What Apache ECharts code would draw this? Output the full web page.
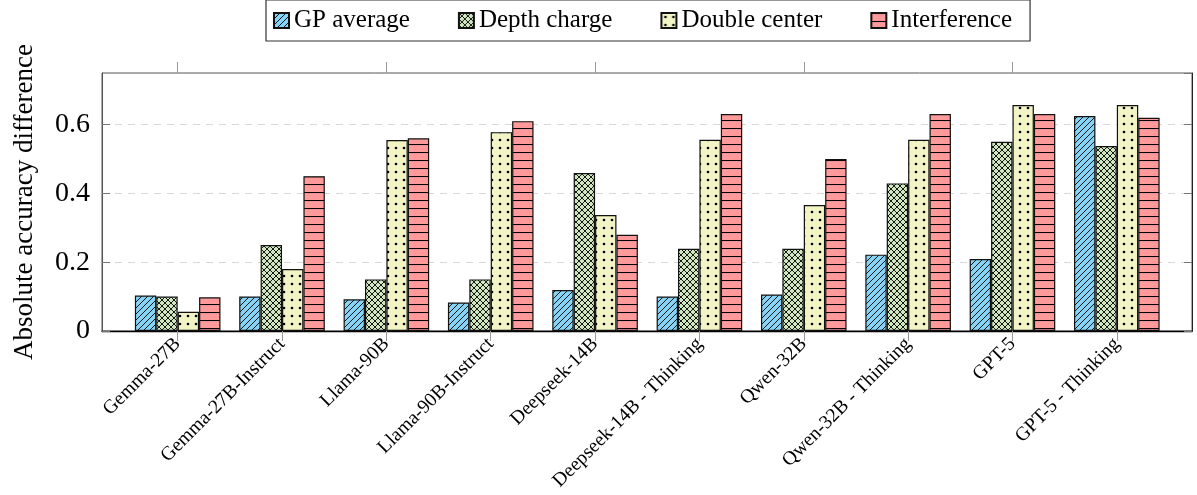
<!DOCTYPE html>
<html><head><meta charset="utf-8">
<script src="https://cdn.jsdelivr.net/npm/echarts@6/dist/echarts.min.js"></script>
<style>html,body{margin:0;padding:0;background:#fff}#c{width:1197px;height:495px}</style>
</head><body><div id="c"></div>
<script>
const categories = ['Gemma-27B','Gemma-27B-Instruct','Llama-90B','Llama-90B-Instruct','Deepseek-14B','Deepseek-14B - Thinking','Qwen-32B','Qwen-32B - Thinking','GPT-5','GPT-5 - Thinking'];
const seriesNames = ['GP average','Depth charge','Double center','Interference'];
const gpAverage    = [0.103,0.100,0.092,0.083,0.119,0.100,0.106,0.222,0.209,0.625];
const depthCharge  = [0.100,0.250,0.150,0.150,0.459,0.239,0.239,0.429,0.550,0.538];
const doubleCenter = [0.056,0.180,0.555,0.578,0.337,0.556,0.366,0.556,0.657,0.657];
const interference = [0.098,0.450,0.560,0.610,0.280,0.631,0.500,0.631,0.631,0.620];
const yTickLabels = ['0','0.2','0.4','0.6'];

function makePattern(bg, kind){
  const s = kind==='dots' ? 8 : (kind==='hlines' ? 8 : 6);
  const c = document.createElement('canvas');
  c.width = s; c.height = s;
  const g = c.getContext('2d');
  g.fillStyle = bg; g.fillRect(0,0,s,s);
  g.strokeStyle = '#000'; g.fillStyle = '#000'; g.lineWidth = 0.9;
  function seg(x1,y1,x2,y2){g.beginPath();g.moveTo(x1,y1);g.lineTo(x2,y2);g.stroke();}
  if(kind==='diag'){
    seg(-1,s+1,s+1,-1); seg(-1,1,1,-1); seg(s-1,s+1,s+1,s-1);
  } else if(kind==='cross'){
    seg(-1,s+1,s+1,-1); seg(-1,1,1,-1); seg(s-1,s+1,s+1,s-1);
    seg(-1,-1,s+1,s+1); seg(-1,s-1,1,s+1); seg(s-1,-1,s+1,1);
  } else if(kind==='dots'){
    g.beginPath(); g.arc(s/2,s/2,1.3,0,Math.PI*2); g.fill();
  } else if(kind==='hlines'){
    g.lineWidth = 1.1; seg(0,0.5,s,0.5);
  }
  return {image: c, repeat: 'repeat'};
}
const fills = [
  makePattern('#86d3f5','diag'),
  makePattern('#d1e7c2','cross'),
  makePattern('#f2f4c6','dots'),
  makePattern('#ff9a9a','hlines')
];
const dataSets = [gpAverage, depthCharge, doubleCenter, interference];
const serif = 'Liberation Serif';

const chart = echarts.init(document.getElementById('c'), null, {renderer:'canvas'});
chart.setOption({
  animation: false,
  backgroundColor: '#fff',
  legend: {
    data: seriesNames, left: 266, top: 0,
    itemWidth: 15, itemHeight: 15, itemGap: 48,
    icon: 'rect',
    textStyle: {fontFamily: serif, fontSize: 25, color: '#000'},
    borderColor: '#333', borderWidth: 1.2,
    padding: [8, 18, 8, 7]
  },
  grid: [
    {left: 102, right: 5, top: 73, bottom: 164, show: true, borderColor: '#555', borderWidth: 1},
    {left: 125.5, right: 28, top: 73, bottom: 164}
  ],
  xAxis: [
    {gridIndex: 0, type: 'value', min: 0, max: 1, axisLine: {show: true, lineStyle: {color: '#000', width: 1.3}},
     axisTick: {show: false}, axisLabel: {show: false}, splitLine: {show: false}},
    {gridIndex: 1, type: 'category', data: categories, position: 'bottom',
     axisLine: {show: false}, axisTick: {show: true, alignWithLabel: true, length: 10, lineStyle: {color: '#999'}},
     axisLabel: {interval: 0, rotate: 45, margin: 10, fontFamily: serif, fontSize: 19.5, color: '#000'}},
    {gridIndex: 1, type: 'category', data: categories, position: 'top',
     axisLine: {show: false}, axisTick: {show: true, alignWithLabel: true, length: 11, lineStyle: {color: '#999'}},
     axisLabel: {show: false}}
  ],
  yAxis: [
    {gridIndex: 0, type: 'value', min: 0, max: 0.75, interval: 0.2, position: 'left',
     name: 'Absolute accuracy difference', nameLocation: 'middle', nameGap: 64, nameRotate: 90,
     nameTextStyle: {fontFamily: serif, fontSize: 27, color: '#000'},
     axisLine: {show: true, lineStyle: {color: '#555'}},
     axisTick: {show: true, inside: true, length: 8, lineStyle: {color: '#777'}},
     axisLabel: {showMaxLabel: false, margin: 12, fontFamily: serif, fontSize: 28, color: '#000',
       formatter: function(v){ const i = Math.round(v/0.2); return (Math.abs(v - i*0.2) < 1e-6 && yTickLabels[i]) ? yTickLabels[i] : ''; }},
     splitLine: {show: true, showMinLine: false, showMaxLine: false, lineStyle: {color: '#d8d8d8', type: [7,6], width: 1}}},
    {gridIndex: 0, type: 'value', min: 0, max: 0.75, interval: 0.2, position: 'right',
     axisLine: {show: true, lineStyle: {color: '#222'}},
     axisTick: {show: true, inside: true, length: 8, lineStyle: {color: '#777'}},
     axisLabel: {show: false}, splitLine: {show: false}},
    {gridIndex: 1, type: 'value', min: 0, max: 0.75, show: false, splitLine: {show: false}}
  ],
  series: seriesNames.map((n, i) => ({
    name: n, type: 'bar', xAxisIndex: 1, yAxisIndex: 2,
    data: dataSets[i], barWidth: 21.4, barGap: '0%',
    itemStyle: {color: fills[i], borderColor: '#111', borderWidth: 1.2}
  }))
});
</script></body></html>
